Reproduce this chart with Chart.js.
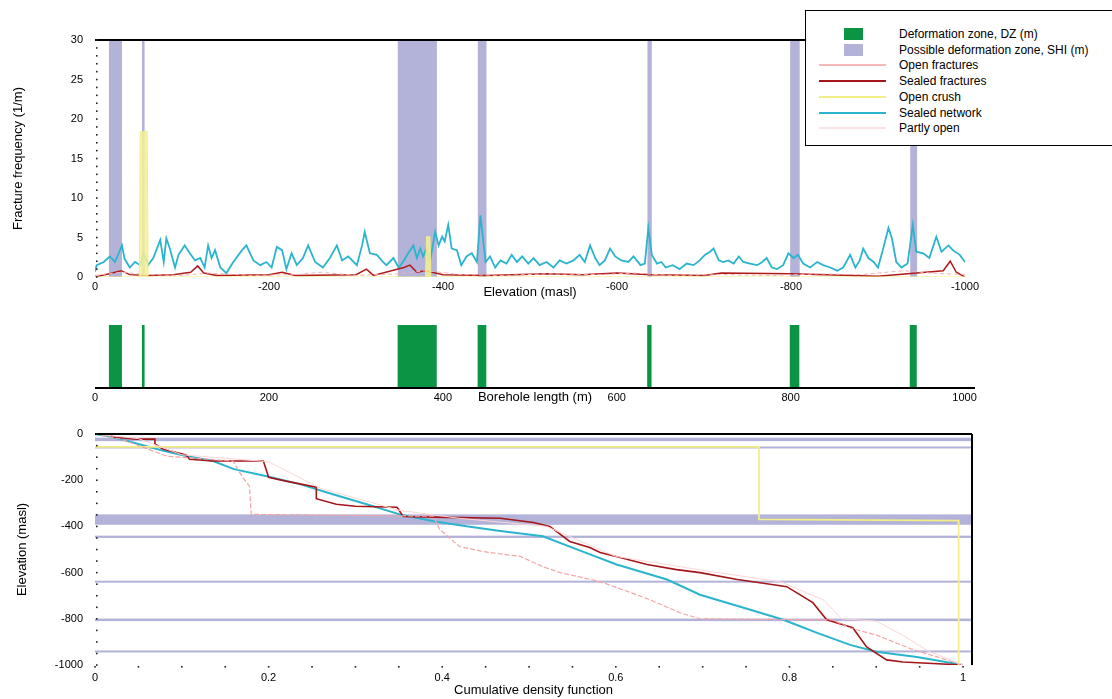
<!DOCTYPE html>
<html>
<head>
<meta charset="utf-8">
<script src="https://cdn.jsdelivr.net/npm/chart.js@4.4.1/dist/chart.umd.min.js"></script>
<style>
  body { margin: 0; background: #fff; }
  #wrap { position: relative; width: 1112px; height: 699px; overflow: hidden; font-family: "Liberation Sans", Arial, sans-serif; }
  .box { position: absolute; left: 0; width: 1112px; }
  #legend { position: absolute; left: 805px; top: 10px; width: 330px; height: 134px; border: 1.5px solid #000; background: #fff; }
  .row { position: absolute; left: 0; height: 14px; width: 320px; }
  .row span { position: absolute; left: 93px; top: 0; font-size: 12px; line-height: 14px; color: #000; white-space: nowrap; }
</style>
</head>
<body>
<div id="wrap">
  <div class="box" style="top:0;height:300px"><canvas id="chartTop"></canvas></div>
  <div class="box" style="top:305px;height:100px"><canvas id="chartMid"></canvas></div>
  <div class="box" style="top:415px;height:284px"><canvas id="chartCdf"></canvas></div>
  <div id="legend"></div>
</div>
<script>
// deformation zones, elevation (m)
const zoneTop = [-16, -54, -348, -440, -635, -799, -937];
const zoneBase = [-31, -57, -393, -450, -640, -810, -945];

// fracture frequency along the hole
const netElev = [0, -2, -10, -17, -23, -31, -34, -40, -46, -52, -56, -61, -67, -75, -79, -82, -86, -92, -96, -103,
    -109, -115, -121, -126, -130, -134, -138, -144, -151, -159, -169, -174, -182, -190, -197, -203, -209, -215, -220, -226,
    -232, -239, -245, -253, -262, -270, -278, -284, -291, -301, -307, -310, -316, -324, -331, -335, -343, -349, -354, -360,
    -366, -370, -374, -377, -381, -385, -391, -395, -399, -402, -406, -410, -416, -421, -427, -433, -439, -443, -449, -454,
    -460, -466, -473, -479, -485, -491, -498, -504, -511, -519, -527, -534, -542, -550, -557, -563, -569, -575, -580, -586,
    -592, -598, -605, -613, -619, -627, -632, -636, -640, -646, -651, -656, -664, -672, -680, -688, -695, -701, -707, -711,
    -717, -722, -728, -734, -740, -745, -753, -761, -767, -772, -778, -784, -791, -797, -803, -808, -814, -822, -830, -837,
    -845, -853, -860, -868, -874, -879, -883, -889, -895, -900, -906, -912, -916, -921, -927, -934, -940, -944, -952, -959,
    -967, -973, -981, -986, -994, -1000];
const netVals = [0.7, 1.5, 1.9, 2.6, 1.9, 4.0, 2.3, 1.2, 1.9, 1.5, 3.0, 1.5, 2.4, 4.7, 1.9, 4.9, 3.6, 1.2, 2.8, 4.0,
    3.0, 2.1, 2.4, 1.2, 4.0, 2.4, 3.4, 1.2, 0.5, 1.9, 3.4, 4.0, 2.1, 1.5, 1.9, 1.2, 3.8, 3.4, 1.0, 3.0,
    1.5, 2.4, 4.0, 1.9, 1.2, 2.4, 4.0, 2.1, 2.6, 1.5, 4.0, 5.7, 3.0, 2.8, 1.9, 1.5, 2.4, 1.2, 1.9, 3.0,
    4.0, 2.4, 3.6, 2.6, 3.6, 1.9, 5.7, 4.0, 5.1, 4.5, 6.6, 3.6, 3.4, 1.5, 2.6, 3.0, 1.9, 7.8, 1.9, 2.6,
    1.2, 2.1, 1.7, 2.8, 1.9, 2.6, 1.7, 2.4, 1.5, 1.9, 1.2, 2.1, 1.7, 2.1, 2.8, 1.9, 4.0, 2.4, 1.5, 2.1,
    3.6, 2.6, 2.1, 1.9, 2.6, 1.5, 1.7, 6.2, 2.8, 1.7, 1.9, 1.2, 1.5, 1.0, 1.7, 1.5, 2.1, 2.8, 3.2, 3.6,
    2.1, 1.9, 2.1, 1.7, 2.6, 1.9, 1.7, 1.5, 1.9, 2.4, 1.2, 1.0, 1.5, 3.0, 2.4, 2.8, 1.7, 1.2, 1.9, 1.5,
    1.2, 0.8, 1.2, 2.8, 1.2, 2.1, 3.6, 2.4, 1.9, 1.2, 3.6, 6.2, 4.9, 1.9, 1.2, 1.7, 6.6, 3.2, 3.0, 2.4,
    5.1, 3.2, 4.0, 3.4, 2.8, 1.9];

const sealedElev = [0, -20, -30, -40, -60, -90, -110, -118, -125, -140, -200, -215, -230, -300, -312, -320, -355, -362, -370, -380,
    -400, -450, -520, -560, -600, -640, -700, -720, -800, -900, -975, -983, -990, -1000];
const sealedVals = [0, 0.5, 0.8, 0.3, 0.2, 0.3, 0.6, 1.4, 0.5, 0.2, 0.3, 0.6, 0.2, 0.3, 1.0, 0.2, 1.2, 1.5, 0.6, 0.8,
    0.3, 0.2, 0.4, 0.3, 0.5, 0.3, 0.2, 0.5, 0.4, 0.1, 0.8, 2.0, 0.6, 0];

const crushElev = [0, -51, -52, -60, -61, -380, -381, -385, -386, -1000];
const crushVals = [0, 0, 18.4, 18.4, 0, 0, 5.1, 5.1, 0, 0];

const openElev = [0, -30, -60, -100, -130, -180, -230, -260, -300, -350, -380, -420, -470, -520, -580, -620, -660, -720, -780, -830,
    -880, -930, -960, -1000];
const openVals = [0.2, 0.6, 0.3, 0.2, 0.5, 0.2, 0.3, 0.6, 0.2, 0.4, 0.8, 0.3, 0.2, 0.4, 0.3, 0.5, 0.2, 0.3, 0.2, 0.4,
    0.3, 0.8, 0.5, 0.3];

// cumulative distributions (cdf, elevation)
const netCdf = [0, 0.02, 0.05, 0.08, 0.105, 0.136, 0.16, 0.198, 0.236, 0.274, 0.313, 0.351, 0.39, 0.43, 0.467, 0.516, 0.562,
    0.601, 0.659, 0.697, 0.755, 0.793, 0.832, 0.87, 0.9, 0.947, 1];
const netCdfElev = [0, -13, -43, -74, -95, -117, -152, -183, -217, -261, -304, -348, -378, -400, -420, -443, -509,
    -565, -630, -696, -761, -804, -861, -913, -943, -965, -1000];

const sealedCdf = [0, 0.017, 0.02, 0.048, 0.069, 0.069, 0.078, 0.105, 0.109, 0.136, 0.194, 0.2, 0.22, 0.255, 0.255, 0.278, 0.3,
    0.348, 0.355, 0.405, 0.467, 0.505, 0.524, 0.547, 0.57, 0.582, 0.605, 0.636, 0.67, 0.697, 0.74, 0.774, 0.797, 0.827,
    0.843, 0.873, 0.889, 0.912, 0.931, 1];
const sealedCdfElev = [0, 0, -13, -22, -22, -43, -65, -91, -109, -117, -117, -187, -204, -230, -280, -304, -313,
    -317, -357, -361, -365, -383, -400, -465, -491, -513, -535, -565, -587, -600, -630, -648, -661, -730,
    -804, -839, -922, -978, -987, -1000];

const crushCdf = [0, 0.765, 0.765, 0.995, 0.995];
const crushCdfElev = [-56, -56, -370, -375, -1000];

const openCdf = [0, 0.03, 0.083, 0.159, 0.17, 0.178, 0.18, 0.39, 0.397, 0.42, 0.447, 0.49, 0.516, 0.536, 0.582, 0.608, 0.639,
    0.674, 0.697, 0.85, 0.87, 0.9, 0.94, 0.97, 1];
const openCdfElev = [0, -22, -96, -117, -187, -226, -348, -356, -413, -487, -509, -530, -574, -600, -639, -674, -717,
    -774, -800, -805, -840, -870, -930, -965, -1000];

const partCdf = [0, 0.05, 0.1, 0.2, 0.26, 0.35, 0.42, 0.52, 0.6, 0.7, 0.79, 0.84, 0.86, 0.9, 0.93, 0.96, 1];
const partCdfElev = [0, -20, -90, -120, -235, -330, -365, -400, -530, -590, -640, -720, -800, -810, -870, -940, -1000];

// axis ticks
const elevTicks = [0, -200, -400, -600, -800, -1000];
const freqTicks = [0, 5, 10, 15, 20, 25, 30];
const lengthTicks = [0, 200, 400, 600, 800, 1000];
const cdfTicks = [0, 0.2, 0.4, 0.6, 0.8, 1];

const legendLabels = ['Deformation zone, DZ (m)', 'Possible deformation zone, SHI (m)', 'Open fractures', 'Sealed fractures',
    'Open crush', 'Sealed network', 'Partly open'];
const legendColors = ['#0b9444', '#b3b3da', '#f7b8b8', '#a3161a', '#f3ee86', '#2ab4cd', '#fbe3e3'];
const legendKinds = ['box', 'box', 'line', 'line', 'line', 'line', 'line'];

Chart.defaults.font.family = '"Liberation Sans", Arial, sans-serif';
Chart.defaults.font.size = 11;
Chart.defaults.color = '#000';

const pts = (xs, ys) => xs.map((x, i) => ({x: x, y: ys[i]}));
const fixTicks = list => scale => { scale.ticks = list.map(v => ({value: v})); };
const label = v => String(v);

// shaded zones, drawn through the chart's own scale
const zoneBands = {
    id: 'zoneBands',
    beforeDatasetsDraw(chart, args, opts) {
        const {ctx, chartArea: a} = chart;
        const s = chart.scales[opts.axis];
        ctx.save();
        ctx.fillStyle = opts.color;
        zoneTop.forEach((t, i) => {
            const sign = opts.flip ? -1 : 1;
            const p1 = s.getPixelForValue(sign * t);
            const p2 = s.getPixelForValue(sign * zoneBase[i]);
            const lo = Math.min(p1, p2);
            const w = Math.max(Math.abs(p2 - p1), 2);
            if (opts.axis === 'y') ctx.fillRect(a.left, lo, a.right - a.left, w);
            else ctx.fillRect(lo, a.top, w, a.bottom - a.top);
        });
        ctx.restore();
    }
};

// black frame sides and small minor-tick dots
const frame = {
    id: 'frame',
    afterDatasetsDraw(chart, args, opts) {
        const {ctx, chartArea: a} = chart;
        ctx.save();
        ctx.strokeStyle = '#000';
        ctx.lineWidth = 2;
        ctx.beginPath();
        (opts.sides || []).forEach(side => {
            if (side === 'top') { ctx.moveTo(a.left, a.top); ctx.lineTo(a.right, a.top); }
            if (side === 'bottom') { ctx.moveTo(a.left, a.bottom); ctx.lineTo(a.right, a.bottom); }
            if (side === 'right') { ctx.moveTo(a.right, a.top); ctx.lineTo(a.right, a.bottom); }
        });
        ctx.stroke();
        ctx.fillStyle = '#222';
        (opts.minor || []).forEach(m => {
            const s = chart.scales[m.axis];
            for (let v = s.min; v <= s.max + 1e-9; v += m.step) {
                const p = s.getPixelForValue(v);
                if (m.axis === 'y') ctx.fillRect(a.left + 1, p - 0.75, 1.6, 1.6);
                else ctx.fillRect(p - 0.75, a.bottom + 1, 1.6, 1.6);
            }
        });
        ctx.restore();
    }
};

const titleFont = {size: 13};

// chart one: frequency vs elevation
new Chart(document.getElementById('chartTop'), {
    type: 'line',
    data: {
        datasets: [
            {data: pts(crushElev, crushVals), borderColor: '#f3ee86', backgroundColor: 'rgba(245,240,150,0.85)', borderWidth: 1, fill: 'origin'},
            {data: pts(openElev, openVals), borderColor: '#f7b0b0', borderWidth: 1, borderDash: [4, 3]},
            {data: pts(sealedElev, sealedVals), borderColor: '#b01a1a', borderWidth: 1.5},
            {data: pts(netElev, netVals), borderColor: '#2ab4cd', borderWidth: 1.8},
        ]
    },
    options: {
        animation: false,
        responsive: true,
        maintainAspectRatio: false,
        elements: {point: {radius: 0}, line: {tension: 0}},
        layout: {padding: {left: 11, top: 40, right: 147, bottom: 0}},
        scales: {
            x: {
                type: 'linear', min: -1000, max: 0, reverse: true,
                afterBuildTicks: fixTicks(elevTicks),
                afterFit: s => { s.height = 23; },
                grid: {display: false, drawTicks: false},
                border: {display: false},
                ticks: {padding: 3, callback: label},
                title: {display: true, text: 'Elevation (masl)', font: titleFont, padding: 0}
            },
            y: {
                min: 0, max: 30,
                afterBuildTicks: fixTicks(freqTicks),
                afterFit: s => { s.width = 84; },
                grid: {display: false, drawTicks: false},
                border: {display: false},
                ticks: {padding: 12, callback: label},
                title: {display: true, text: 'Fracture frequency (1/m)', font: titleFont, padding: 0}
            }
        },
        plugins: {
            legend: {display: false},
            tooltip: {enabled: false},
            zoneBands: {axis: 'x', color: '#b3b3da'},
            frame: {sides: ['top'], minor: [{axis: 'y', step: 1}]}
        }
    },
    plugins: [zoneBands, frame]
});

// chart two: zones along the hole
new Chart(document.getElementById('chartMid'), {
    type: 'line',
    data: {datasets: [{data: []}]},
    options: {
        animation: false,
        responsive: true,
        maintainAspectRatio: false,
        layout: {padding: {left: 95, top: 20, right: 137, bottom: 0}},
        scales: {
            x: {
                type: 'linear', min: 0, max: 1012,
                afterBuildTicks: fixTicks(lengthTicks),
                afterFit: s => { s.height = 17; },
                grid: {display: false, drawTicks: false},
                border: {display: false},
                ticks: {padding: 3, callback: label},
                title: {display: true, text: 'Borehole length (m)', font: titleFont, padding: 0}
            },
            y: {display: false, min: 0, max: 1}
        },
        plugins: {
            legend: {display: false},
            tooltip: {enabled: false},
            zoneBands: {axis: 'x', color: '#0b9444', flip: true},
            frame: {sides: ['bottom']}
        }
    },
    plugins: [zoneBands, frame]
});

// chart three: cumulative distributions vs elevation
new Chart(document.getElementById('chartCdf'), {
    type: 'line',
    data: {
        datasets: [
            {data: pts(partCdf, partCdfElev), borderColor: '#fbd6d6', borderWidth: 1},
            {data: pts(openCdf, openCdfElev), borderColor: '#f4a4a4', borderWidth: 1.2, borderDash: [5, 2]},
            {data: pts(crushCdf, crushCdfElev), borderColor: '#f3ee86', borderWidth: 1.8},
            {data: pts(sealedCdf, sealedCdfElev), borderColor: '#a3161a', borderWidth: 1.6},
            {data: pts(netCdf, netCdfElev), borderColor: '#2ab4cd', borderWidth: 2},
        ]
    },
    options: {
        animation: false,
        responsive: true,
        maintainAspectRatio: false,
        elements: {point: {radius: 0}, line: {tension: 0}},
        layout: {padding: {left: 15, top: 19, right: 140, bottom: 1}},
        scales: {
            x: {
                type: 'linear', min: 0, max: 1.0104,
                afterBuildTicks: fixTicks(cdfTicks),
                afterFit: s => { s.height = 33; },
                grid: {display: false, drawTicks: false},
                border: {display: false},
                ticks: {padding: 6, callback: label},
                title: {display: true, text: 'Cumulative density function', font: titleFont, padding: 0}
            },
            y: {
                min: -1000, max: 0,
                afterBuildTicks: fixTicks(elevTicks),
                afterFit: s => { s.width = 80; },
                grid: {display: false, drawTicks: false},
                border: {display: false},
                ticks: {padding: 12, callback: label},
                title: {display: true, text: 'Elevation (masl)', font: titleFont, padding: 0}
            }
        },
        plugins: {
            legend: {display: false},
            tooltip: {enabled: false},
            zoneBands: {axis: 'y', color: '#b3b3da'},
            frame: {sides: ['top', 'right'], minor: [{axis: 'y', step: 50}, {axis: 'x', step: 0.05}]}
        }
    },
    plugins: [zoneBands, frame]
});

// legend box
const legend = document.getElementById('legend');
legendLabels.forEach((text, i) => {
    const row = document.createElement('div');
    row.className = 'row';
    row.style.top = (16 + i * 15.7) + 'px';
    const mark = document.createElement('div');
    mark.style.position = 'absolute';
    mark.style.background = legendColors[i];
    if (legendKinds[i] === 'box') {
        mark.style.left = '38px'; mark.style.top = '1px';
        mark.style.width = '19px'; mark.style.height = '12px';
    } else {
        mark.style.left = '13px'; mark.style.top = '6px';
        mark.style.width = '67px'; mark.style.height = '2px';
    }
    const span = document.createElement('span');
    span.textContent = text;
    row.appendChild(mark);
    row.appendChild(span);
    legend.appendChild(row);
});
</script>
</body>
</html>
